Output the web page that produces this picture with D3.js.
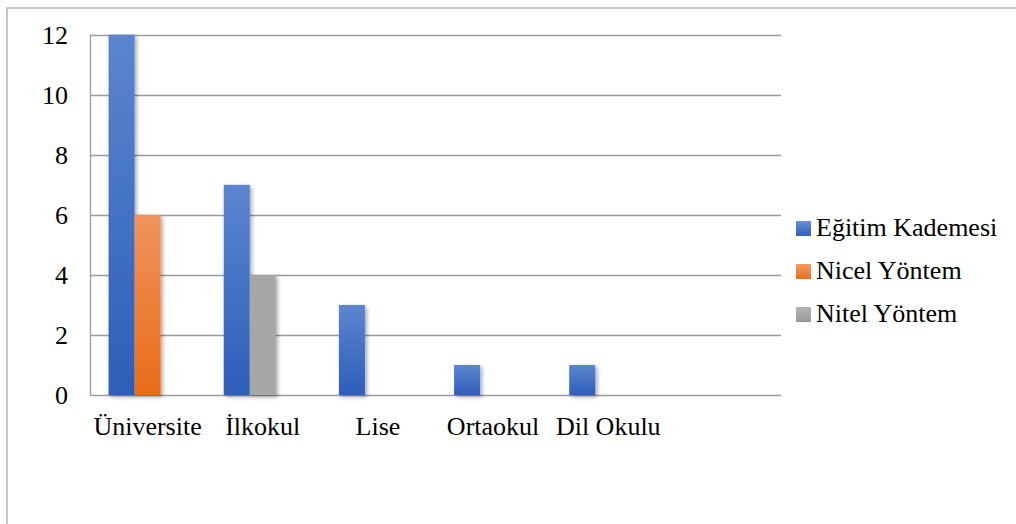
<!DOCTYPE html>
<html>
<head>
<meta charset="utf-8">
<script src="https://cdn.jsdelivr.net/npm/d3@7"></script>
<style>
html,body{margin:0;padding:0;background:#fff;}
svg{display:block;}
text{font-family:"Liberation Serif","Times New Roman",serif;fill:#000;}
</style>
</head>
<body>
<svg id="chart" width="1016" height="524"></svg>
<script>
// ---- data ----
const categories = ["Üniversite", "İlkokul", "Lise", "Ortaokul", "Dil Okulu", ""];
const seriesNames = ["Eğitim Kademesi", "Nicel Yöntem", "Nitel Yöntem"];
const egitimKademesi = [12, 7, 3, 1, 1];
const nicelYontem = [6, 0, 0, 0, 0];
const nitelYontem = [0, 4, 0, 0, 0];
const seriesSlots = [0, 1, 1];
const yTicks = [0, 2, 4, 6, 8, 10, 12];

const seriesValues = [egitimKademesi, nicelYontem, nitelYontem];
const gradStops = [
  ["#5b85cf", "#2d5eb9"],
  ["#f0925c", "#e86c17"],
  ["#a6a6a6", "#a6a6a6"]
];

const svg = d3.select("#chart");
const defs = svg.append("defs");
gradStops.forEach((g, i) => {
  const lgr = defs.append("linearGradient").attr("id", "g" + i)
    .attr("x1", 0).attr("y1", 0).attr("x2", 0).attr("y2", 1);
  lgr.append("stop").attr("offset", "0%").attr("stop-color", g[0]);
  lgr.append("stop").attr("offset", "100%").attr("stop-color", g[1]);
});
const lgL = [["#6b90d4","#2f5fba"],["#f59a62","#e8701e"],["#b4b4b4","#999"]];
lgL.forEach((g,i)=>{
  const lgr = defs.append("linearGradient").attr("id", "lg" + i)
    .attr("x1", 0).attr("y1", 0).attr("x2", 0).attr("y2", 1);
  lgr.append("stop").attr("offset", "0%").attr("stop-color", g[0]);
  lgr.append("stop").attr("offset", "100%").attr("stop-color", g[1]);
});
const flt = defs.append("filter").attr("id", "shadow")
  .attr("x", "-30%").attr("y", "-10%").attr("width", "170%").attr("height", "130%");
flt.append("feDropShadow").attr("dx", 2).attr("dy", 2).attr("stdDeviation", 2)
  .attr("flood-color", "#000").attr("flood-opacity", 0.35);

// outer frame
svg.append("rect").attr("x", 7).attr("y", 8).attr("width", 1200).attr("height", 700)
  .attr("fill", "none").attr("stroke", "#a8a8a8").attr("stroke-width", 1.3);

const pLeft = 90, pRight = 781, pTop = 34.7, pBottom = 395;
const x = d3.scaleBand().domain(categories.map((c, i) => i)).range([pLeft, pRight]).padding(0);
const x1 = d3.scaleBand().domain([0, 1, 2]).range([0, x.bandwidth()]).paddingInner(0).paddingOuter(0.715);
const y = d3.scaleLinear().domain([0, 12]).range([pBottom, pTop]);

// gridlines
svg.append("g").selectAll("line").data(yTicks).join("line")
  .attr("x1", pLeft).attr("x2", pRight)
  .attr("y1", d => Math.round(y(d)) + 0.5).attr("y2", d => Math.round(y(d)) + 0.5)
  .attr("stroke", "#9c9c9c").attr("stroke-width", 1.3);
svg.append("line").attr("x1", pLeft + 0.5).attr("x2", pLeft + 0.5)
  .attr("y1", y(12)).attr("y2", y(0)).attr("stroke", "#9c9c9c").attr("stroke-width", 1.3);

// y tick labels
svg.append("g").selectAll("text").data(yTicks).join("text")
  .attr("x", 68).attr("y", d => y(d) + 9)
  .attr("text-anchor", "end").attr("font-size", 26).text(d => d);

// bars
seriesValues.forEach((vals, s) => {
  svg.append("g").attr("filter", "url(#shadow)").selectAll("rect")
    .data(vals.map((v, i) => ({ v, i })).filter(d => d.v > 0))
    .join("rect")
    .attr("x", d => x(d.i) + x1(seriesSlots[s]))
    .attr("width", x1.bandwidth())
    .attr("y", d => y(d.v))
    .attr("height", d => y(0) - y(d.v))
    .attr("fill", "url(#g" + s + ")");
});

// category labels
svg.append("g").selectAll("text").data(categories).join("text")
  .attr("x", (d, i) => x(i) + x.bandwidth() / 2).attr("y", 435)
  .attr("text-anchor", "middle").attr("font-size", 26).text(d => d);

// legend
const legend = svg.append("g");
seriesNames.forEach((n, i) => {
  const yy = 221 + i * 43;
  legend.append("rect").attr("x", 796).attr("y", yy).attr("width", 15).attr("height", 15)
    .attr("fill", "url(#lg" + i + ")");
  legend.append("text").attr("x", 816).attr("y", yy + 14.5).attr("font-size", 26).text(n);
});
</script>
</body>
</html>
